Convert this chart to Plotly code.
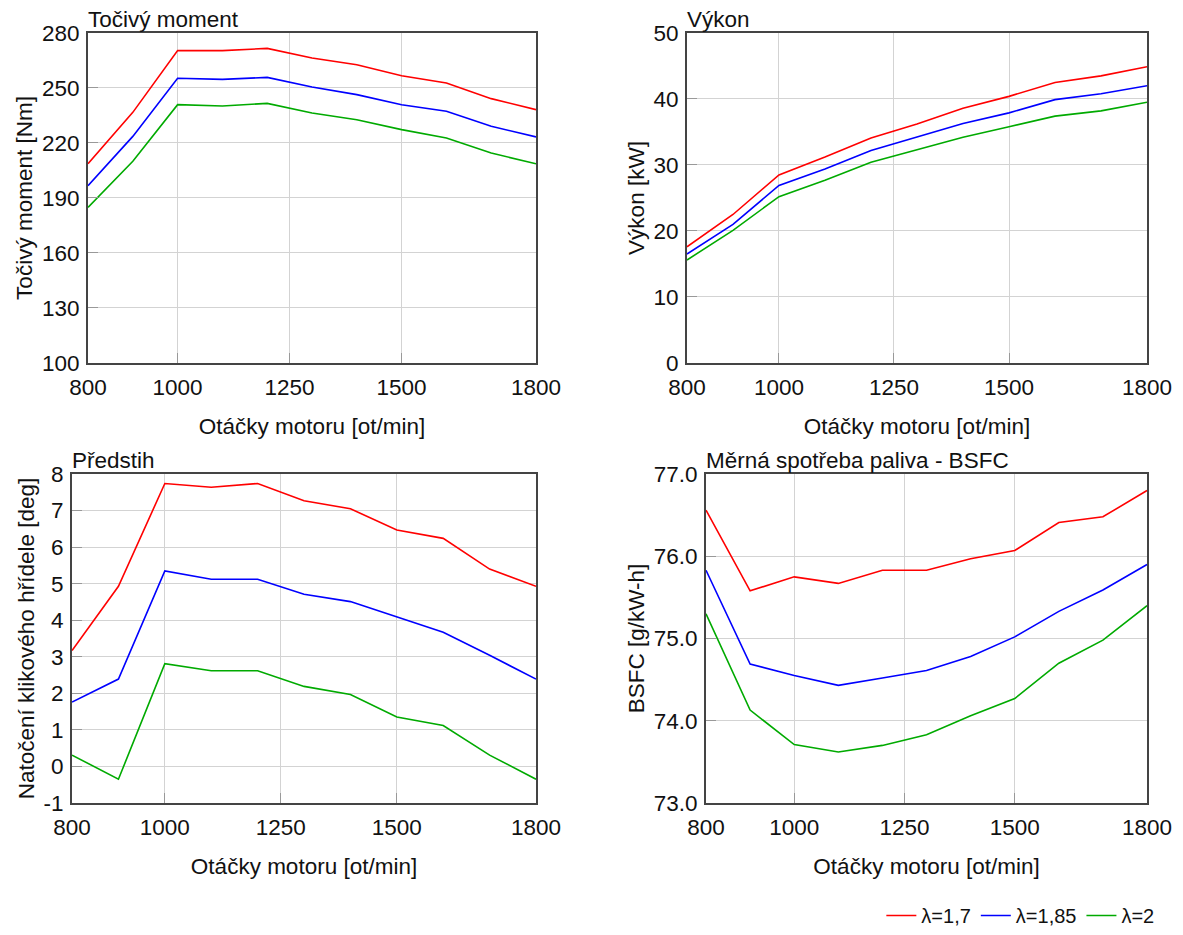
import plotly.graph_objects as go

rpm = [800, 900, 1000, 1100, 1200, 1300, 1400, 1500, 1600, 1700, 1800]
series_names = ["λ=1,7", "λ=1,85", "λ=2"]
colors = ["#ff0000", "#0000ff", "#00aa00"]

torque = [
    [208.7, 236.7, 270.4, 270.4, 271.6, 266.4, 262.7, 256.7, 252.7, 244.2, 238.2],
    [196.7, 223.6, 255.3, 254.7, 255.8, 250.5, 246.4, 240.9, 237.3, 229.1, 223.3],
    [184.9, 210.0, 240.9, 240.2, 241.6, 236.4, 232.7, 227.3, 222.7, 214.5, 208.7],
]
power = [
    [17.6, 22.5, 28.5, 31.2, 34.1, 36.2, 38.6, 40.4, 42.5, 43.5, 44.9],
    [16.5, 21.0, 26.9, 29.4, 32.2, 34.3, 36.3, 37.9, 39.9, 40.8, 42.0],
    [15.6, 20.1, 25.2, 27.7, 30.4, 32.3, 34.2, 35.8, 37.4, 38.2, 39.5],
]
advance = [
    [3.17, 4.93, 7.74, 7.64, 7.74, 7.27, 7.05, 6.47, 6.24, 5.40, 4.93],
    [1.76, 2.39, 5.35, 5.12, 5.12, 4.71, 4.51, 4.08, 3.67, 3.04, 2.39],
    [0.31, -0.35, 2.81, 2.62, 2.62, 2.19, 1.97, 1.35, 1.12, 0.31, -0.35],
]
bsfc = [
    [76.56, 75.58, 75.75, 75.67, 75.83, 75.83, 75.97, 76.07, 76.41, 76.48, 76.80],
    [75.83, 74.69, 74.55, 74.43, 74.52, 74.61, 74.78, 75.02, 75.33, 75.59, 75.90],
    [75.30, 74.13, 73.71, 73.62, 73.70, 73.83, 74.06, 74.27, 74.70, 74.98, 75.40],
]

x_ticks = [800, 1000, 1250, 1500, 1800]
torque_ticks = [100, 130, 160, 190, 220, 250, 280]
power_ticks = [0, 10, 20, 30, 40, 50]
advance_ticks = [-1, 0, 1, 2, 3, 4, 5, 6, 7, 8]
bsfc_ticks = [73.0, 74.0, 75.0, 76.0, 77.0]
x_title = "Otáčky motoru [ot/min]"

panels = [
    dict(data=torque, title="Točivý moment", ytitle="Točivý moment [Nm]",
         yticks=torque_ticks, yfmt="{:d}", xd=[0.0744, 0.4531], yd=[0.6118, 0.9647]),
    dict(data=power, title="Výkon", ytitle="Výkon [kW]",
         yticks=power_ticks, yfmt="{:d}", xd=[0.5807, 0.9696], yd=[0.6118, 0.9647]),
    dict(data=advance, title="Předstih", ytitle="Natočení klikového hřídele [deg]",
         yticks=advance_ticks, yfmt="{:d}", xd=[0.0609, 0.4531], yd=[0.1412, 0.4930]),
    dict(data=bsfc, title="Měrná spotřeba paliva - BSFC", ytitle="BSFC [g/kW-h]",
         yticks=bsfc_ticks, yfmt="{:.1f}", xd=[0.5968, 0.9696], yd=[0.1412, 0.4930]),
]

FONT = "Liberation Sans, Arial, sans-serif"
TXT = "#111111"
FS = 22.5
fig = go.Figure()
layout = {}
annotations = []
for i, p in enumerate(panels):
    n = i + 1
    xa = "x" if n == 1 else f"x{n}"
    ya = "y" if n == 1 else f"y{n}"
    for s in range(3):
        fig.add_trace(go.Scatter(
            x=rpm, y=p["data"][s], mode="lines", name=series_names[s],
            line=dict(color=colors[s], width=1.6),
            xaxis=xa, yaxis=ya, showlegend=(n == 1),
        ))
    axis_common = dict(
        showline=True, linecolor="#444444", linewidth=2, mirror=True,
        showgrid=True, gridcolor="#d3d3d3", gridwidth=1,
        ticks="inside", ticklen=10, tickcolor="#999999", tickwidth=1,
        zeroline=False, automargin=False,
        tickfont=dict(size=FS, color=TXT, family=FONT),
    )
    layout["xaxis" if n == 1 else f"xaxis{n}"] = dict(
        domain=p["xd"], anchor=ya, range=[800, 1800],
        tickmode="array", tickvals=x_ticks, ticktext=[str(v) for v in x_ticks],
        ticklabelstandoff=3,
        title=dict(text=x_title, font=dict(size=FS, color=TXT, family=FONT), standoff=19),
        **axis_common,
    )
    yt = p["yticks"]
    layout["yaxis" if n == 1 else f"yaxis{n}"] = dict(
        domain=p["yd"], anchor=xa, range=[yt[0], yt[-1]],
        tickmode="array", tickvals=yt, ticktext=[p["yfmt"].format(v) for v in yt],
        ticklabelstandoff=2,
        title=dict(text=p["ytitle"], font=dict(size=FS, color=TXT, family=FONT), standoff=3),
        **axis_common,
    )
    annotations.append(dict(
        text=p["title"], xref="paper", yref="paper", x=p["xd"][0], y=p["yd"][1],
        xanchor="left", yanchor="bottom", showarrow=False, xshift=-2, yshift=-1,
        font=dict(size=FS, color=TXT, family=FONT),
    ))

fig.update_layout(
    width=1183, height=935,
    margin=dict(l=0, r=0, t=0, b=0),
    paper_bgcolor="white", plot_bgcolor="white",
    font=dict(family=FONT, color=TXT),
    annotations=annotations,
    legend=dict(orientation="h", x=0.98, xanchor="right", y=0.0, yanchor="bottom",
                font=dict(size=20, family=FONT, color=TXT),
                itemwidth=30, tracegroupgap=0, bgcolor="rgba(0,0,0,0)"),
    **layout,
)
fig.write_html("out.html")
